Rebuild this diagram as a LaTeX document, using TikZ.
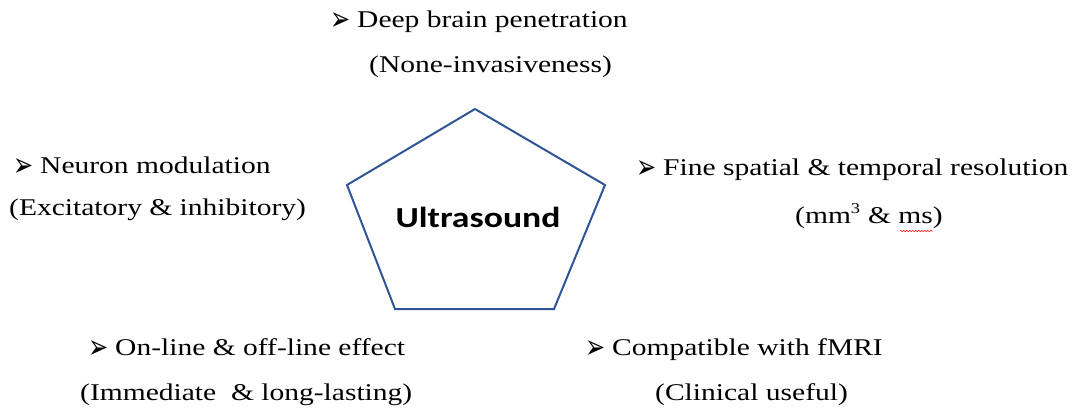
\documentclass[tikz,border=0pt]{standalone}
\usepackage{fontspec}
\setmainfont[FakeStretch=1.23]{Liberation Serif}
\newfontfamily\dejavu{DejaVu Sans}
\newfontfamily\carlito[FakeStretch=1.23]{Carlito}
\usetikzlibrary{decorations.pathmorphing,calc}
\definecolor{pentblue}{RGB}{47,85,151}
\newcommand\bul{\makebox[27pt][l]{\dejavu\fontsize{24}{24}\selectfont\raisebox{-3pt}{\scalebox{1}[1.4]{➢}}}}
\tikzset{
  lbl/.style={anchor=base west, inner sep=0pt, font=\fontsize{24}{24}\selectfont},
  pent/.style={draw=pentblue, line width=2pt, line join=miter},
  spell/.style={draw=red, line width=0.5pt, decorate, decoration={snake, amplitude=0.8pt, segment length=3pt}},
}
\begin{document}
\begin{tikzpicture}[x=1pt,y=-1pt]
\useasboundingbox (0,0) rectangle (1078,412);
% pentagon
\coordinate (pt) at (475,109);
\coordinate (pr) at (605,185);
\coordinate (pbr) at (554,309);
\coordinate (pbl) at (395,309);
\coordinate (pl) at (347,185);
\draw[pent] (pt) -- (pr) -- (pbr) -- (pbl) -- (pl) -- cycle;
\node[anchor=base, inner sep=0pt, font=\carlito\bfseries\fontsize{29}{29}\selectfont] (us) at (478,227) {Ultrasound};
% top
\node[lbl] (t1) at (330,28) {\bul Deep brain penetration};
\node[lbl] (t2) at (369,72) {(None-invasiveness)};
% left
\node[lbl] (l1) at (13,173) {\bul Neuron modulation};
\node[lbl] (l2) at (9,215) {(Excitatory \& inhibitory)};
% right
\node[lbl] (r1) at (636,175) {\bul Fine spatial \& temporal resolution};
\node[lbl] (r2) at (795,223) {(mm\textsuperscript{\fontsize{15}{15}\selectfont 3} \& ms)};
\coordinate (s1) at ($(r2.base east)+(-43,8)$);
\coordinate (s2) at ($(r2.base east)+(-10,8)$);
\draw[spell] (s1) -- (s2);
% bottom left
\node[lbl] (bl1) at (88,355) {\bul On-line \& off-line effect};
\node[lbl] (bl2) at (80,400) {(Immediate\ \ \& long-lasting)};
% bottom right
\node[lbl] (br1) at (585,355) {\bul Compatible with fMRI};
\node[lbl] (br2) at (655,400) {(Clinical useful)};
\end{tikzpicture}
\end{document}
